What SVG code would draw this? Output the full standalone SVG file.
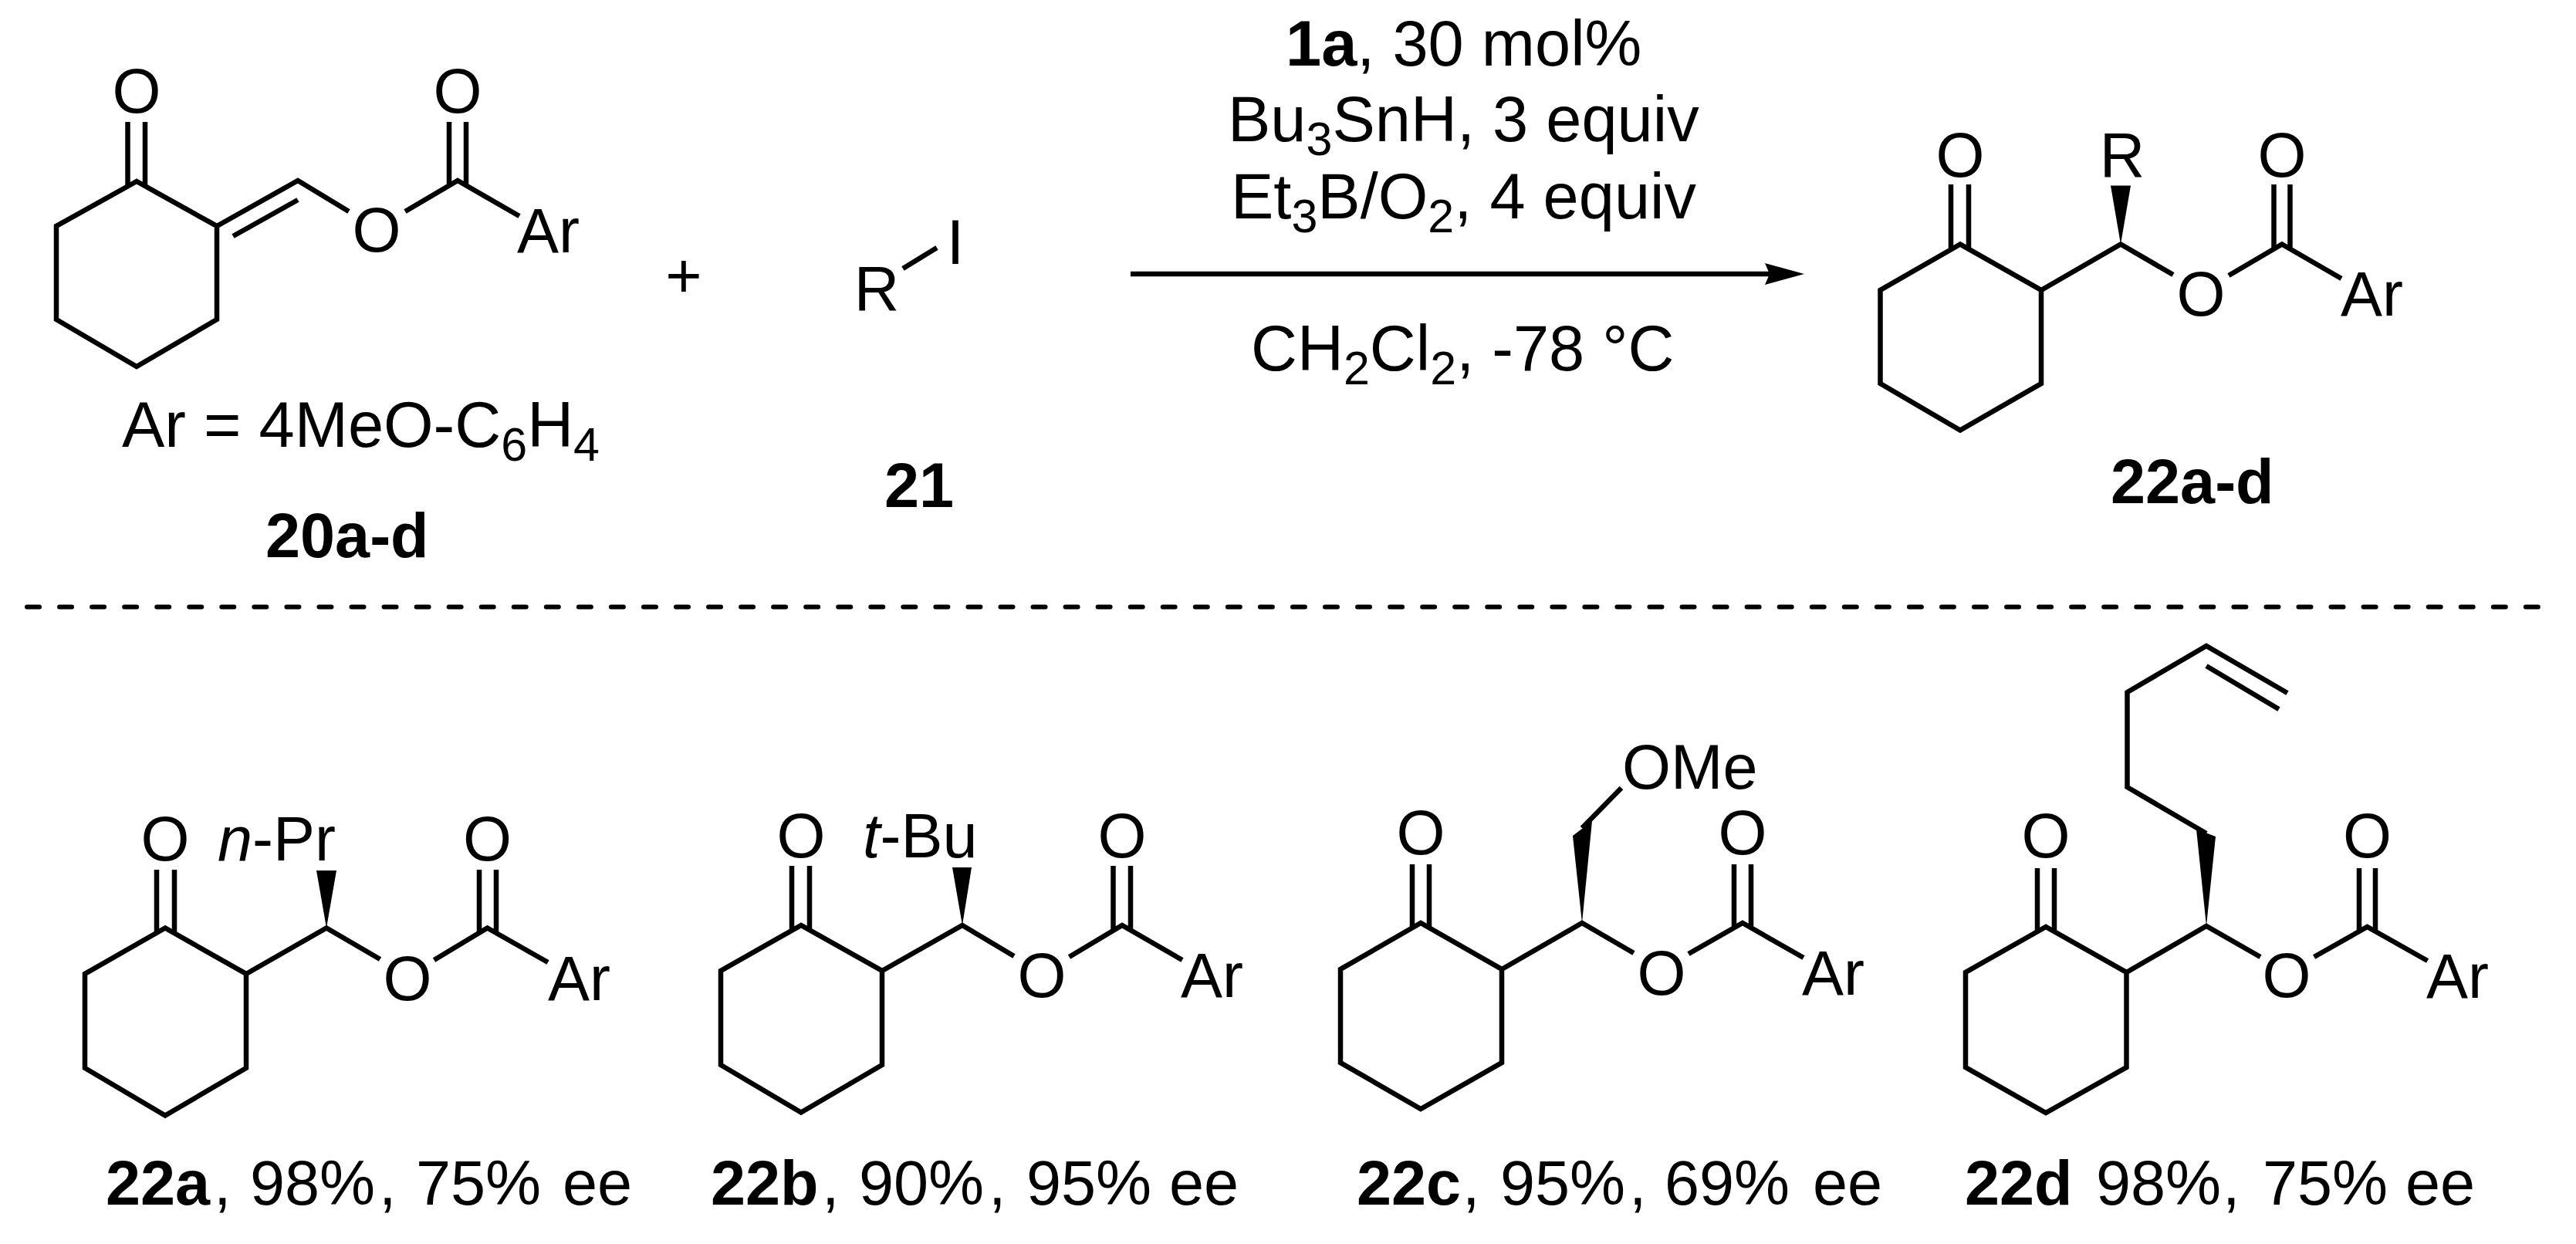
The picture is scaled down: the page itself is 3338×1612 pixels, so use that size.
<svg xmlns="http://www.w3.org/2000/svg" width="3338" height="1612" viewBox="0 0 3338 1612">
<defs>
<style>
text{font-family:"Liberation Sans",Arial,sans-serif;font-size:81px;fill:#000}
.c{text-anchor:middle}
.b{font-weight:700}
.i{font-style:italic}
.m{font-size:83px}
.s{font-size:61px}
.bd{fill:none;stroke:#000;stroke-width:6.500;stroke-linejoin:miter;stroke-linecap:butt}
.w{fill:#000;stroke:none}
.arrow{fill:none;stroke:#000;stroke-width:6.500}
.dash{fill:none;stroke:#000;stroke-width:6;stroke-linecap:round;stroke-dasharray:16 26.050}
</style>
<marker id="head" markerUnits="userSpaceOnUse" viewBox="0 0 51 28" refX="9" refY="14" markerWidth="51" markerHeight="28" orient="auto"><path d="M0 0L51 14L0 28L6 14Z" fill="#000"/></marker>
</defs>
<rect width="3338" height="1612" fill="#fff"/>
<g id="connectors">
<line class="arrow" x1="1465" y1="355" x2="2296" y2="355" marker-end="url(#head)"/>
<line class="dash" x1="35" y1="786.500" x2="3295" y2="786.500"/>
</g>
<g id="mol-20a-d">
<path class="bd" d="M177 235L73 293V414L177 475L281 414V293Z"/>
<path class="bd" d="M281 293L386 234L452 274M302 306L386 259M165.500 158V240M188 158V240M525 274L593 234L673 280M582 158V240M604 158V240"/>
<text class="c" x="177" y="146">O</text><text class="c" x="488" y="326">O</text><text class="c" x="593" y="146">O</text>
<text x="670" y="327">Ar</text>
<text class="m" x="158" y="579">Ar = 4MeO-C<tspan class="s" dy="18">6</tspan><tspan dy="-18">H</tspan><tspan class="s" dy="18">4</tspan></text>
<text class="b" x="344" y="722">20a-d</text>
</g>
<g id="plus"><text class="c" x="886" y="385">+</text></g>
<g id="mol-21">
<path class="bd" d="M1170 348L1214 321"/>
<text class="c" x="1136" y="402">R</text><text class="c" x="1238" y="342">I</text>
<text class="b" x="1146" y="657">21</text>
</g>
<g id="conditions">
<text class="m" x="1666" y="85"><tspan class="b">1a</tspan>, 30 mol%</text>
<text class="m" x="1591" y="183">Bu<tspan class="s" dy="18">3</tspan><tspan dy="-18">SnH, 3 equiv</tspan></text>
<text class="m" x="1595" y="283">Et<tspan class="s" dy="18">3</tspan><tspan dy="-18">B/O</tspan><tspan class="s" dy="18">2</tspan><tspan dy="-18">, 4 equiv</tspan></text>
<text class="m" x="1621" y="480">CH<tspan class="s" dy="18">2</tspan><tspan dy="-18">Cl</tspan><tspan class="s" dy="18">2</tspan><tspan dy="-18">, -78 °C</tspan></text>
</g>
<g id="mol-22a-d">
<path class="bd" d="M2540 316.500L2436.500 376V497L2540 557.500L2645 497V376Z"/>
<path class="bd" d="M2645 376L2748 316.500L2816 356M2888 357L2957 316.500L3034 361M2528 239V321M2551 239V321M2946.500 239V321M2967.500 239V321"/>
<path class="w" d="M2748 316.500L2735 240.500H2761Z"/>
<text class="c" x="2540" y="229">O</text><text class="c" x="2750" y="229">R</text><text class="c" x="2957" y="229">O</text><text class="c" x="2852" y="409">O</text>
<text x="3033" y="409">Ar</text>
<text class="b" x="2735" y="652">22a-d</text>
</g>
<g id="mol-22a">
<path class="bd" d="M214 1202.500L110 1262V1384L214 1445.500L319 1384V1262Z"/>
<path class="bd" d="M319 1262L423 1202.500L492.500 1243M562.500 1244L631.500 1202.500L710 1247M203 1127V1207M226 1127V1207M621 1127V1207M643 1127V1207"/>
<path class="w" d="M423 1202.500L410 1128H436Z"/>
<text class="c" x="214" y="1115">O</text><text class="c" x="631.500" y="1115">O</text><text class="c" x="528" y="1296">O</text>
<text x="282" y="1115"><tspan class="i">n</tspan>-Pr</text>
<text x="710" y="1296">Ar</text>
<text x="137" y="1561"><tspan class="b">22a</tspan><tspan x="277">,</tspan> <tspan x="324">98%</tspan><tspan x="491">,</tspan> <tspan x="539">75%</tspan> <tspan x="729">ee</tspan></text>
</g>
<g id="mol-22b">
<path class="bd" d="M1038 1199L934 1258V1380L1038 1441.500L1143 1380V1258Z"/>
<path class="bd" d="M1143 1258L1247 1199L1314 1239M1385.500 1240L1454 1199L1532 1244M1026 1122V1204M1049 1122V1204M1442.500 1122V1204M1465 1122V1204"/>
<path class="w" d="M1247 1199L1234 1124H1259Z"/>
<text class="c" x="1038" y="1111">O</text><text class="c" x="1454" y="1111">O</text><text class="c" x="1350" y="1292">O</text>
<text x="1118" y="1111"><tspan class="i">t</tspan>-Bu</text>
<text x="1530" y="1292">Ar</text>
<text x="921" y="1561"><tspan class="b">22b</tspan><tspan x="1065">,</tspan> <tspan x="1113">90%</tspan><tspan x="1281">,</tspan> <tspan x="1330">95%</tspan> <tspan x="1515">ee</tspan></text>
</g>
<g id="mol-22c">
<path class="bd" d="M1841 1196L1737 1256V1377L1841 1437L1946 1377V1256Z"/>
<path class="bd" d="M1946 1256L2050 1196L2117 1235M2188 1236L2258 1196L2337 1241M1830 1120V1201M1852 1120V1201M2247 1120V1201M2269 1120V1201M2050 1073L2101 1021"/>
<path class="w" d="M2050 1196L2038 1083L2063 1064Z"/>
<text class="c" x="1841" y="1107">O</text><text class="c" x="2258" y="1107">O</text><text class="c" x="2153" y="1289">O</text>
<text x="2102" y="1022">OMe</text>
<text x="2335" y="1289">Ar</text>
<text x="1758" y="1561"><tspan class="b">22c</tspan><tspan x="1895">,</tspan> <tspan x="1944">95%</tspan><tspan x="2111">,</tspan> <tspan x="2157">69%</tspan> <tspan x="2349">ee</tspan></text>
</g>
<g id="mol-22d">
<path class="bd" d="M2651 1201L2547 1260V1383L2651 1442L2755.500 1383V1260Z"/>
<path class="bd" d="M2755.500 1260L2859 1200L2929 1240M2998.600 1240L3067.500 1201L3145.600 1245M2640 1125V1206M2662 1125V1206M3057 1125V1206M3078 1125V1206"/>
<path class="bd" d="M2859 1080L2756.500 1020V897L2859 837L2964 898M2859 863L2953 919"/>
<path class="w" d="M2859 1200L2846 1074.500L2871 1084Z"/>
<text class="c" x="2651" y="1111">O</text><text class="c" x="3067.500" y="1111">O</text><text class="c" x="2963" y="1292">O</text>
<text x="3144" y="1293">Ar</text>
<text x="2546" y="1561"><tspan class="b">22d</tspan> <tspan x="2716">98%</tspan><tspan x="2880">,</tspan> <tspan x="2932">75%</tspan> <tspan x="3117">ee</tspan></text>
</g>
</svg>
